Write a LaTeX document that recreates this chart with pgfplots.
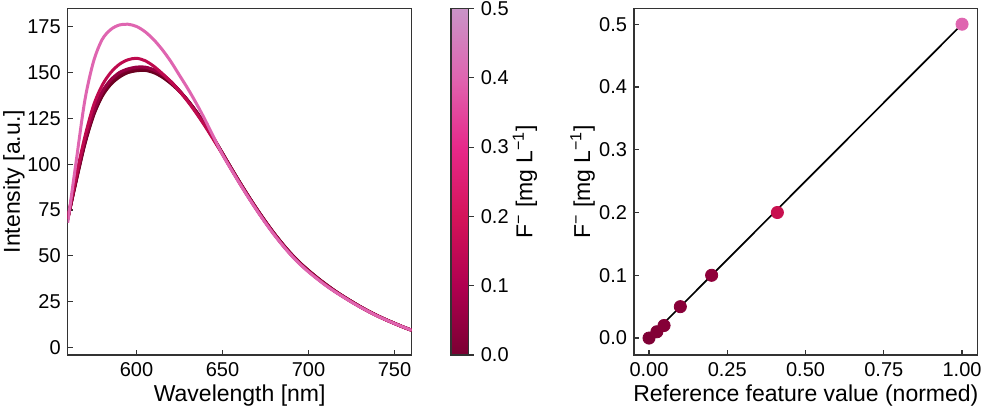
\documentclass[border=0pt]{standalone}
\usepackage{pgfplots}
\usepackage{pgfplotstable}
\usepackage{fontspec}
\setmainfont{Liberation Sans}
\pgfplotsset{compat=1.18}
\definecolor{c0}{HTML}{67001F}
\definecolor{c01}{HTML}{6D0022}
\definecolor{c02}{HTML}{730026}
\definecolor{c05}{HTML}{7F0032}
\definecolor{c10}{HTML}{980043}
\definecolor{c20}{HTML}{BE0A4E}
\definecolor{c50}{HTML}{DF65B0}
\definecolor{m0}{HTML}{7F0035}
\definecolor{m01}{HTML}{820036}
\definecolor{m02}{HTML}{850037}
\definecolor{m05}{HTML}{880038}
\definecolor{m10}{HTML}{8F003A}
\definecolor{m20}{HTML}{C8104F}
\definecolor{frm}{HTML}{333333}
\pgfplotstableread{
nm a b c d e f g
560 70 70 70 70 70 70 68
565 91 91.5 92 92 92.5 94 102
570 111 111.5 112 112.5 113 115 135
575 126.5 127 127.5 128 128.5 132 156
580 137 137.5 138 139 139.5 143 168
585 143.5 144 144.5 145.5 146 150 173.5
590 147.5 148 148.5 149.5 150 154.5 176
595 150 150.5 151 151.5 152 157 176.4
600 151 151.5 152 152.5 153 157.8 175.2
605 151.2 151.7 152.2 152.7 153 156.5 172.3
610 150 150.5 151 151.5 151.5 153.5 168
615 147.5 148 148.5 149 149 149.5 162.5
620 144 144.5 145 145 145 145 156
625 139.7 140 140 140 140 139.8 148.5
630 134.5 134.5 134.5 134.5 134.5 134 141
635 128.5 128.3 128.2 128 128 127.5 132.8
640 121.5 121.3 121.2 121 121 120.5 124
645 114 113.8 113.7 113.5 113.5 113 114.5
650 106 105.9 105.8 105.7 105.6 105.4 105.2
655 98 97.9 97.8 97.7 97.6 97.4 97.2
660 90.2 90.1 90 89.9 89.8 89.6 89.4
665 82.7 82.6 82.5 82.4 82.3 82.1 81.9
670 75.5 75.4 75.3 75.2 75.1 74.9 74.7
675 68.7 68.6 68.5 68.4 68.3 68.1 67.9
680 62.3 62.2 62.1 62 61.9 61.7 61.5
685 56.4 56.3 56.2 56.1 56 55.8 55.6
690 51 50.9 50.8 50.7 50.6 50.4 50.2
695 46.2 46.1 46 45.9 45.8 45.6 45.4
700 42 41.9 41.8 41.7 41.6 41.4 41.2
705 38.1 38 37.9 37.8 37.7 37.6 37.4
710 34.5 34.4 34.3 34.2 34.1 34 33.8
715 31.1 31 30.9 30.9 30.8 30.7 30.6
720 28 27.9 27.9 27.8 27.8 27.7 27.6
725 25.1 25 25 24.9 24.9 24.8 24.7
730 22.3 22.2 22.2 22.2 22.1 22.1 22
735 19.7 19.7 19.6 19.6 19.6 19.5 19.5
740 17.3 17.3 17.2 17.2 17.2 17.2 17.1
745 15.1 15.1 15.1 15.1 15 15 15
750 13.1 13.1 13.1 13 13 13 13
755 11.1 11.1 11.1 11.1 11.1 11.1 11.1
760 9.3 9.3 9.3 9.3 9.3 9.3 9.3
}\spectra
\pgfplotsset{
  panel/.style={
    scale only axis,
    axis line style={frm,line width=0.75pt},
    tick style={frm,line width=0.6pt},
    tick align=inside,
    major tick length=2.6pt,
    xtick pos=bottom, ytick pos=left,
    tick label style={font=\fontsize{10}{12}\selectfont},
    label style={font=\fontsize{11.5}{14}\selectfont},
    /pgf/number format/assume math mode=true,
    clip=true,
  },
  sp/.style={line width=1.5pt, smooth, no marks},
}
\begin{document}
\begin{tikzpicture}[x=1pt,y=1pt]
\path[use as bounding box] (0,0) rectangle (491,204);
\begin{axis}[panel,
  at={(33.85pt,26.5pt)}, anchor=south west,
  width=172pt, height=173.25pt,
  xmin=560, xmax=760, ymin=-4.2, ymax=185,
  xtick={600,650,700,750},
  ytick={0,25,50,75,100,125,150,175},
  xlabel={Wavelength [nm]},
  ylabel={Intensity [a.u.]},
  xlabel style={at={(axis description cs:0.5,0)},anchor=north,yshift=-11.5pt},
  ylabel style={at={(axis description cs:0,0.5)},anchor=south,yshift=18pt},
  colormap={purd}{rgb255=(122,0,50) rgb255=(176,0,80) rgb255=(212,20,90) rgb255=(231,41,138) rgb255=(223,101,176) rgb255=(201,148,199)},
  point meta min=0, point meta max=0.5,
  colorbar,
  colorbar style={
    scale only axis,
    at={(1.114,0)}, anchor=south west,
    width=8.85pt, height=173.25pt,
    ytick={0,0.1,0.2,0.3,0.4,0.5},
    yticklabel pos=right,
    ytick pos=right,
    tick align=outside,
    major tick length=2.6pt,
    axis line style={frm,line width=0.6pt},
    tick style={frm,line width=0.6pt},
    tick label style={font=\fontsize{10}{12}\selectfont},
    label style={font=\fontsize{11.5}{14}\selectfont},
    /pgf/number format/assume math mode=true,
    /pgf/number format/fixed, /pgf/number format/fixed zerofill, /pgf/number format/precision=1,
    ylabel={F\textsuperscript{−} [mg L\textsuperscript{−1}]},
    ylabel style={at={(axis description cs:1,0.5)},anchor=north,rotate=0,yshift=-18.5pt},
  },
]
\addplot[sp,c0] table[x=nm,y=a] {\spectra};
\addplot[sp,c01] table[x=nm,y=b] {\spectra};
\addplot[sp,c02] table[x=nm,y=c] {\spectra};
\addplot[sp,c05] table[x=nm,y=d] {\spectra};
\addplot[sp,c10] table[x=nm,y=e] {\spectra};
\addplot[sp,c20] table[x=nm,y=f] {\spectra};
\addplot[sp,c50] table[x=nm,y=g] {\spectra};
\end{axis}
\begin{axis}[panel,
  at={(317pt,26.5pt)}, anchor=south west,
  width=171.85pt, height=173.25pt,
  xmin=-0.048, xmax=1.05, ymin=-0.027, ymax=0.525,
  xtick={0,0.25,0.5,0.75,1},
  ytick={0,0.1,0.2,0.3,0.4,0.5},
  xticklabel style={/pgf/number format/fixed,/pgf/number format/fixed zerofill,/pgf/number format/precision=2},
  yticklabel style={/pgf/number format/fixed,/pgf/number format/fixed zerofill,/pgf/number format/precision=1},
  xlabel={Reference feature value (normed)},
  ylabel={F\textsuperscript{−} [mg L\textsuperscript{−1}]},
  xlabel style={at={(axis description cs:0.5,0)},anchor=north,yshift=-11.5pt},
  ylabel style={at={(axis description cs:0,0.5)},anchor=south,yshift=16pt},
]
\addplot[only marks,mark=*,mark size=3.05pt,m0,mark options={draw=none,fill=m0}] coordinates {(0,0)};
\addplot[only marks,mark=*,mark size=3.05pt,m01,mark options={draw=none,fill=m01}] coordinates {(0.025,0.01)};
\addplot[only marks,mark=*,mark size=3.05pt,m02,mark options={draw=none,fill=m02}] coordinates {(0.048,0.02)};
\addplot[only marks,mark=*,mark size=3.05pt,m05,mark options={draw=none,fill=m05}] coordinates {(0.1,0.05)};
\addplot[only marks,mark=*,mark size=3.05pt,m10,mark options={draw=none,fill=m10}] coordinates {(0.2,0.1)};
\addplot[only marks,mark=*,mark size=3.05pt,m20,mark options={draw=none,fill=m20}] coordinates {(0.41,0.2)};
\addplot[only marks,mark=*,mark size=3.05pt,c50,mark options={draw=none,fill=c50}] coordinates {(1,0.5)};
\addplot[black,line width=0.85pt,no marks] coordinates {(0,0) (1,0.5)};
\end{axis}
\end{tikzpicture}
\end{document}
